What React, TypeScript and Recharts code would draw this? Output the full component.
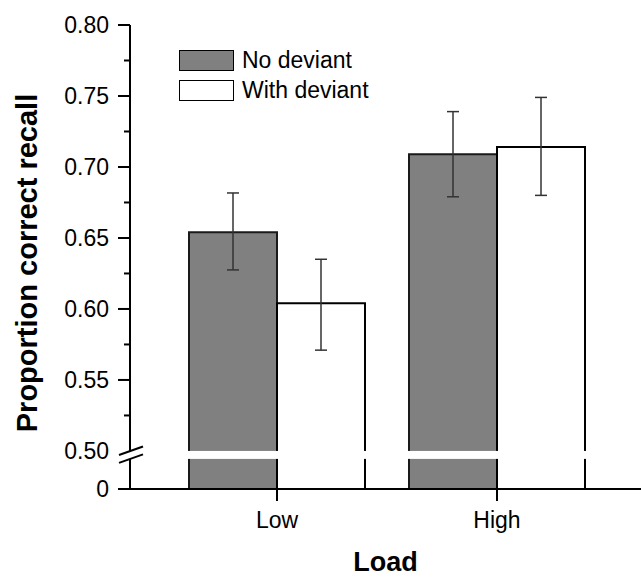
import { BarChart, Bar, XAxis, YAxis, ErrorBar, Legend, ReferenceArea, Label } from 'recharts';

// values
const categories = ['Low', 'High'];
const seriesNames = ['No deviant', 'With deviant'];
const noDeviant = [0.654, 0.709];
const noDeviantErr = [[0.0265, 0.0277], [0.03, 0.03]];
const withDeviant = [0.604, 0.714];
const withDeviantErr = [[0.033, 0.031], [0.034, 0.035]];
const majorTicks = [0.5, 0.55, 0.6, 0.65, 0.7, 0.75, 0.8];
const minorTicks = [0.525, 0.575, 0.625, 0.675, 0.725, 0.775];

// broken axis: "0" sits just under 0.50, the gap is drawn between them
const ZERO_POS = 0.4732;
const BREAK_TOP = 0.5;
const BREAK_BOTTOM = 0.4944;

const FONT = '"Liberation Sans", Arial, Helvetica, sans-serif';
const BAR_FILL = ['#808080', '#ffffff'];
const PAD_LEFT = 37;
const PAD_RIGHT = 34;

const data = categories.map((c, i) => ({
  load: c,
  noDev: noDeviant[i],
  noDevErr: noDeviantErr[i],
  withDev: withDeviant[i],
  withDevErr: withDeviantErr[i],
}));

const allTicks = [ZERO_POS, ...majorTicks, ...minorTicks].sort((a, b) => a - b);

const YTick = (props: any) => {
  const { x, y, payload } = props;
  const v = payload.value;
  const isMinor = minorTicks.some((t) => Math.abs(t - v) < 1e-6);
  if (isMinor) {
    return <line x1={x - 6} x2={x} y1={y} y2={y} stroke="#000" strokeWidth={2} />;
  }
  const isZero = v === ZERO_POS;
  const isBreak = Math.abs(v - BREAK_TOP) < 1e-6;
  return (
    <g>
      {!isBreak && <line x1={x - 12} x2={x} y1={y} y2={y} stroke="#000" strokeWidth={2} />}
      <text x={x - 21} y={y} dy="0.36em" textAnchor="end" fontSize={23} fontFamily={FONT} fill="#000">
        {isZero ? '0' : v.toFixed(2)}
      </text>
    </g>
  );
};

// white gap across the plot plus the two slashes on the y axis
const BreakBand = (props: any) => {
  const { x, y, width, height } = props;
  const left = x - PAD_LEFT;
  const bottom = y + height;
  return (
    <g>
      <rect x={left - 6} y={y} width={width + PAD_LEFT + PAD_RIGHT + 6} height={height} fill="#fff" />
      <line x1={left - 11} y1={y + 4} x2={left + 13} y2={y - 4.5} stroke="#000" strokeWidth={2} />
      <line x1={left - 11} y1={bottom + 4} x2={left + 13} y2={bottom - 4.5} stroke="#000" strokeWidth={2} />
    </g>
  );
};

const renderLegend = () => (
  <div style={{ fontFamily: FONT, fontSize: 23, color: '#000' }}>
    {seriesNames.map((name, i) => (
      <div key={name} style={{ display: 'flex', alignItems: 'center', height: 30 }}>
        <div
          style={{
            width: 53,
            height: 19,
            background: BAR_FILL[i],
            border: '1.5px solid #000',
            marginRight: 8,
          }}
        />
        <span style={{ lineHeight: '23px' }}>{name}</span>
      </div>
    ))}
  </div>
);

const App = () => {
  return (
    <div style={{ position: 'absolute', left: 0, top: 0, width: 641, height: 577, background: '#fff' }}>
      <BarChart
        width={641}
        height={577}
        data={data}
        margin={{ top: 25, right: 0, bottom: 0, left: 0 }}
        barGap={0}
        barCategoryGap="10%"
        style={{ fontFamily: FONT }}
      >
        <XAxis
          dataKey="load"
          height={88}
          padding={{ left: PAD_LEFT, right: PAD_RIGHT }}
          tickSize={12}
          tickMargin={11}
          axisLine={{ stroke: '#000', strokeWidth: 2 }}
          tickLine={{ stroke: '#000', strokeWidth: 2 }}
          tick={{ fill: '#000', fontSize: 23, fontFamily: FONT }}
        >
          <Label
            content={(p: any) => {
              const vb = p.viewBox;
              return (
                <text x={vb.x + vb.width / 2} y={vb.y + 82} textAnchor="middle" fontSize={27} fontWeight="bold" fontFamily={FONT} fill="#000">
                  Load
                </text>
              );
            }}
          />
        </XAxis>
        <YAxis
          width={130}
          domain={[ZERO_POS, 0.8]}
          ticks={allTicks}
          interval={0}
          allowDataOverflow
          tickSize={0}
          tickMargin={0}
          tickLine={false}
          axisLine={{ stroke: '#000', strokeWidth: 2 }}
          tick={<YTick />}
        >
          <Label
            content={(p: any) => {
              const vb = p.viewBox;
              const cy = vb.y + vb.height / 2 + 6;
              return (
                <text
                  x={27}
                  y={cy}
                  transform={`rotate(-90 27 ${cy})`}
                  textAnchor="middle"
                  dy="0.36em"
                  fontSize={29}
                  fontWeight="bold"
                  fontFamily={FONT}
                  fill="#000"
                >
                  Proportion correct recall
                </text>
              );
            }}
          />
        </YAxis>
        <Legend
          layout="vertical"
          align="center"
          verticalAlign="middle"
          content={renderLegend}
          wrapperStyle={{ left: 179, top: 45, width: 'auto', height: 'auto' }}
        />
        <Bar dataKey="noDev" name={seriesNames[0]} barSize={88} fill={BAR_FILL[0]} stroke="#1a1a1a" strokeWidth={2} isAnimationActive={false}>
          <ErrorBar dataKey="noDevErr" width={6} stroke="#333" strokeWidth={1.5} />
        </Bar>
        <Bar dataKey="withDev" name={seriesNames[1]} barSize={88} fill={BAR_FILL[1]} stroke="#000" strokeWidth={2} isAnimationActive={false}>
          <ErrorBar dataKey="withDevErr" width={6} stroke="#333" strokeWidth={1.5} />
        </Bar>
        <ReferenceArea y1={BREAK_BOTTOM} y2={BREAK_TOP} shape={<BreakBand />} ifOverflow="visible" zIndex={1500} />
      </BarChart>
    </div>
  );
};

export default App;
